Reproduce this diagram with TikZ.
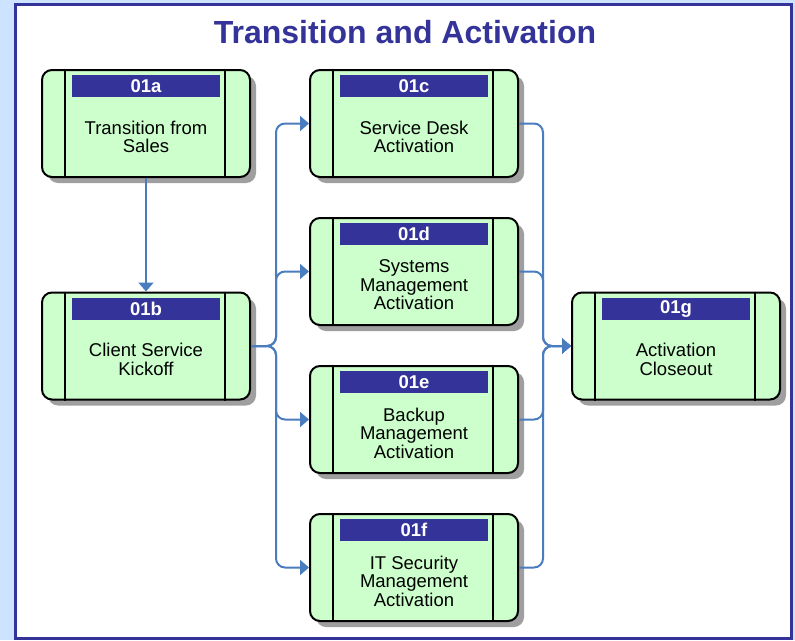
\documentclass[tikz,border=0pt]{standalone}
\usepackage{fontspec}
\setmainfont{Liberation Sans}
\usepackage{xcolor}
\usepackage{tikz}
\usetikzlibrary{arrows.meta, shadows}

\definecolor{navy}{RGB}{51,51,153}
\definecolor{paleblue}{RGB}{204,228,255}
\definecolor{palegreen}{RGB}{204,255,204}
\definecolor{flowblue}{RGB}{74,124,192}

\tikzset{
    taskbox/.style={draw=black, line width=2pt, rounded corners=10pt, fill=palegreen,
            minimum width=208pt, minimum height=107pt,
            drop shadow={shadow xshift=6pt, shadow yshift=-6pt, fill=gray!75, opacity=1}},
    taskid/.style={fill=navy, text=white, font=\fontsize{18.5}{18.5}\selectfont\bfseries,
            minimum width=148pt, minimum height=22pt, inner sep=0pt},
    tasktext/.style={align=center, font=\fontsize{18.5}{18.5}\selectfont, inner sep=0pt},
    flow/.style={draw=flowblue, line width=2pt, rounded corners=9pt,
            -{Triangle[length=9pt,width=15pt]}}
}

\begin{document}
\begin{tikzpicture}[x=1pt,y=-1pt]
        \useasboundingbox (0,0) rectangle (795,640);
        \fill[paleblue] (0,0) rectangle (795,640);
        \draw[navy, fill=white, line width=3pt] (15.5,4.5) rectangle (791,638.5);

        \node[text=navy, font=\fontsize{32}{32}\selectfont\bfseries] (title) at (405,32) {Transition and Activation};

        % Task boxes
        \foreach \n/\x/\y/\id/\txt in {a/146/123.5/01a/{Transition from\\Sales},
                b/146/346/01b/{Client Service\\Kickoff},
                c/414/123.5/01c/{Service Desk\\Activation},
                d/414/271.5/01d/{Systems\\Management\\Activation},
                e/414/419.5/01e/{Backup\\Management\\Activation},
                f/414/567.5/01f/{IT Security\\Management\\Activation},
                g/676/346/01g/{Activation\\Closeout}} {
                \node[taskbox] (\n) at (\x,\y) {};
                \draw[line width=1.5pt] ([xshift=24pt]\n.north west) -- ([xshift=24pt]\n.south west);
                \draw[line width=1.5pt] ([xshift=-26pt]\n.north east) -- ([xshift=-26pt]\n.south east);
                \node[taskid] (\n-id) at ([yshift=-17pt]\n.north) {\id};
                \node[tasktext] (\n-txt) at ([yshift=-68pt]\n.north) {\txt};
            }

        % Connectors
        \draw[flow] (a.south) -- (b.north);
        \foreach \t in {c,d,e,f} {
                \draw[flow] (b.east) -- ++(25,0) |- (\t.west);
            }
        \foreach \s in {c,d,e,f} {
                \draw[flow] (\s.east) -- ++(24,0) |- (g.west);
            }
    \end{tikzpicture}
\end{document}
